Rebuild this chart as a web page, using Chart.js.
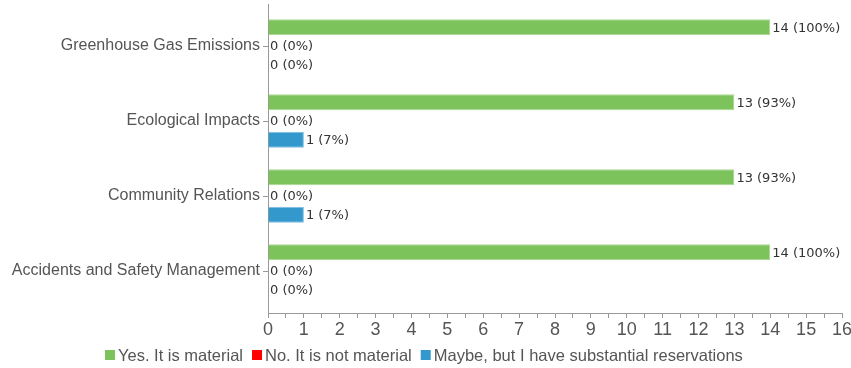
<!DOCTYPE html>
<html>
<head>
<meta charset="utf-8">
<script src="https://cdn.jsdelivr.net/npm/chart.js@4/dist/chart.umd.min.js"></script>
<style>
html,body{margin:0;padding:0;background:#fff;}
#wrap{width:851px;height:368px;position:relative;}
</style>
</head>
<body>
<div id="wrap"><canvas id="c" width="851" height="368"></canvas></div>
<script>
const categories = ["Greenhouse Gas Emissions", "Ecological Impacts", "Community Relations", "Accidents and Safety Management"];
const seriesNames = ["Yes. It is material", "No. It is not material", "Maybe, but I have substantial reservations"];
const yesValues = [14, 13, 13, 14];
const noValues = [0, 0, 0, 0];
const maybeValues = [0, 1, 1, 0];
const totalRespondents = 14;
const xTickMax = 16;

const colors = ["#7dc35b", "#ff0000", "#3399cc"];
const FONT = '"Liberation Sans", Arial, sans-serif';
const NARROW = '"Liberation Sans Narrow", "Arial Narrow", "Liberation Sans", sans-serif';

class PaddedCategory extends Chart.CategoryScale {
  configure() {
    super.configure();
    const inset = this.options.inset || 0;
    this._startPixel += inset;
    this._endPixel -= inset;
    this._length -= 2 * inset;
  }
}
PaddedCategory.id = 'paddedCategory';
PaddedCategory.defaults = Chart.CategoryScale.defaults;
Chart.register(PaddedCategory);

const dataLabelPlugin = {
  id: 'dataLabels',
  afterDatasetsDraw(chart) {
    const ctx = chart.ctx;
    ctx.save();
    ctx.font = '13px "DejaVu Sans"';
    ctx.fillStyle = '#333';
    ctx.textBaseline = 'middle';
    ctx.textAlign = 'left';
    chart.data.datasets.forEach((ds, di) => {
      const meta = chart.getDatasetMeta(di);
      meta.data.forEach((el, i) => {
        const v = ds.data[i];
        const pct = Math.round(v / totalRespondents * 100);
        ctx.fillText(v + ' (' + pct + '%)', el.x + 2, el.y + 1);
      });
    });
    ctx.restore();
  }
};

const legendPlugin = {
  id: 'customLegend',
  afterDraw(chart) {
    const ctx = chart.ctx;
    ctx.save();
    ctx.font = '16.5px ' + FONT;
    ctx.textBaseline = 'middle';
    const box = 10, gapText = 3, gapItem = 9;
    const items = chart.data.datasets.map(ds => ({label: ds.label, color: ds.backgroundColor, w: ctx.measureText(ds.label).width}));
    let total = 0;
    items.forEach((it, i) => { total += box + gapText + it.w + (i < items.length - 1 ? gapItem : 0); });
    let x = Math.round(chart.width / 2 - total / 2) - 2;
    const cy = 355;
    items.forEach(it => {
      ctx.fillStyle = it.color;
      ctx.fillRect(x, cy - 5, box, box);
      x += box + gapText;
      ctx.fillStyle = '#555';
      ctx.fillText(it.label, x, cy + 1);
      x += it.w + gapItem;
    });
    ctx.restore();
  }
};

new Chart(document.getElementById('c'), {
  type: 'bar',
  data: {
    labels: categories,
    datasets: [
      {label: seriesNames[0], data: yesValues, backgroundColor: colors[0], borderColor: '#a9d893', borderWidth: 1},
      {label: seriesNames[1], data: noValues, backgroundColor: colors[1], borderColor: colors[1], borderWidth: 0},
      {label: seriesNames[2], data: maybeValues, backgroundColor: colors[2], borderColor: '#7fbde0', borderWidth: 1}
    ]
  },
  options: {
    indexAxis: 'y',
    responsive: false,
    animation: false,
    devicePixelRatio: 1,
    categoryPercentage: 0.75,
    barPercentage: 0.86,
    layout: {padding: {left: 8, right: 0, top: 4, bottom: 25}},
    plugins: {
      legend: {display: false},
      tooltip: {enabled: false}
    },
    scales: {
      x: {
        min: 0, max: xTickMax,
        border: {color: '#999', width: 1},
        grid: {drawOnChartArea: false, color: '#999', tickLength: 5},
        ticks: {
          stepSize: 0.5, autoSkip: false, maxRotation: 0,
          color: '#555', padding: 1,
          font: {family: NARROW, size: 18},
          callback: (v) => (v % 1 === 0 ? String(v) : '')
        },
        afterFit(s) { s.height = 30; s.paddingRight = 9; s.paddingLeft = 0; }
      },
      y: {
        type: 'paddedCategory',
        inset: 4.5,
        border: {color: '#999', width: 1},
        grid: {drawOnChartArea: false, color: '#999', tickLength: 5, offset: false},
        ticks: {
          color: '#555', padding: 3,
          font: {family: FONT, size: 16}
        },
        afterFit(s) { s.width = 260; s.paddingTop = 0; s.paddingBottom = 0; }
      }
    }
  },
  plugins: [dataLabelPlugin, legendPlugin]
});
</script>
</body>
</html>
